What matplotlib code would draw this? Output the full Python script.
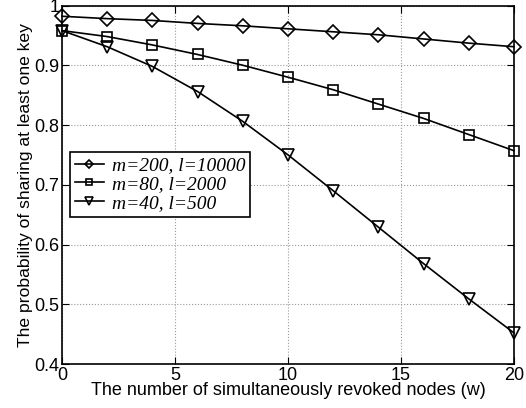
import numpy as np
import matplotlib.pyplot as plt
from matplotlib.ticker import FuncFormatter

# data
w = [0, 2, 4, 6, 8, 10, 12, 14, 16, 18, 20]
p_m200 = [0.982, 0.978, 0.975, 0.970, 0.966, 0.961, 0.956, 0.951, 0.944, 0.937, 0.931]
p_m80 = [0.958, 0.948, 0.934, 0.918, 0.900, 0.880, 0.859, 0.835, 0.811, 0.784, 0.757]
p_m40 = [0.958, 0.931, 0.898, 0.856, 0.806, 0.750, 0.690, 0.629, 0.568, 0.509, 0.452]
labels = ['m=200, l=10000', 'm=80, l=2000', 'm=40, l=500']

plt.rcParams['font.family'] = ['Liberation Sans', 'DejaVu Sans']

fig = plt.figure(figsize=(5.26, 4.08), dpi=100)
ax = fig.add_axes([62 / 526, 1 - 364 / 408, (514 - 62) / 526, (364 - 5.5) / 408])

style = dict(color='black', linewidth=1.2, markersize=9, markerfacecolor='none',
             markeredgewidth=1.2, clip_on=False, zorder=3)
ax.plot(w, p_m200, marker='D', label=labels[0], **dict(style, markersize=7.5))
ax.plot(w, p_m80, marker='s', label=labels[1], **dict(style, markersize=7.5))
ax.plot(w, p_m40, marker='v', label=labels[2], **style)

ax.set_xlim(0, 20)
ax.set_ylim(0.4, 1.0)
ax.set_xticks([0, 5, 10, 15, 20])
ax.set_yticks([0.4, 0.5, 0.6, 0.7, 0.8, 0.9, 1.0])
ax.yaxis.set_major_formatter(FuncFormatter(lambda v, p: '1' if abs(v - 1) < 1e-9 else f'{v:.1f}'))
ax.tick_params(direction='in', top=True, right=True, labelsize=13, length=5, pad=2)
ax.grid(True, linestyle=':', color='#999999', linewidth=0.8)
for s in ax.spines.values():
    s.set_linewidth(1.2)

ax.set_xlabel('The number of simultaneously revoked nodes (w)', fontsize=13, labelpad=-1)
ax.set_ylabel('The probability of sharing at least one key', fontsize=12.6, labelpad=1)

leg = ax.legend(loc='upper left', bbox_to_anchor=(8 / 452, 1 - 146.5 / 358.5),
                prop={'family': 'Liberation Serif', 'style': 'italic', 'size': 14},
                fancybox=False, framealpha=1, edgecolor='black', markerscale=0.6,
                borderpad=0.25, labelspacing=0.05, handlelength=1.5, handletextpad=0.4,
                borderaxespad=0)
leg.get_frame().set_linewidth(1.2)

fig.savefig('out.png', dpi=100)
